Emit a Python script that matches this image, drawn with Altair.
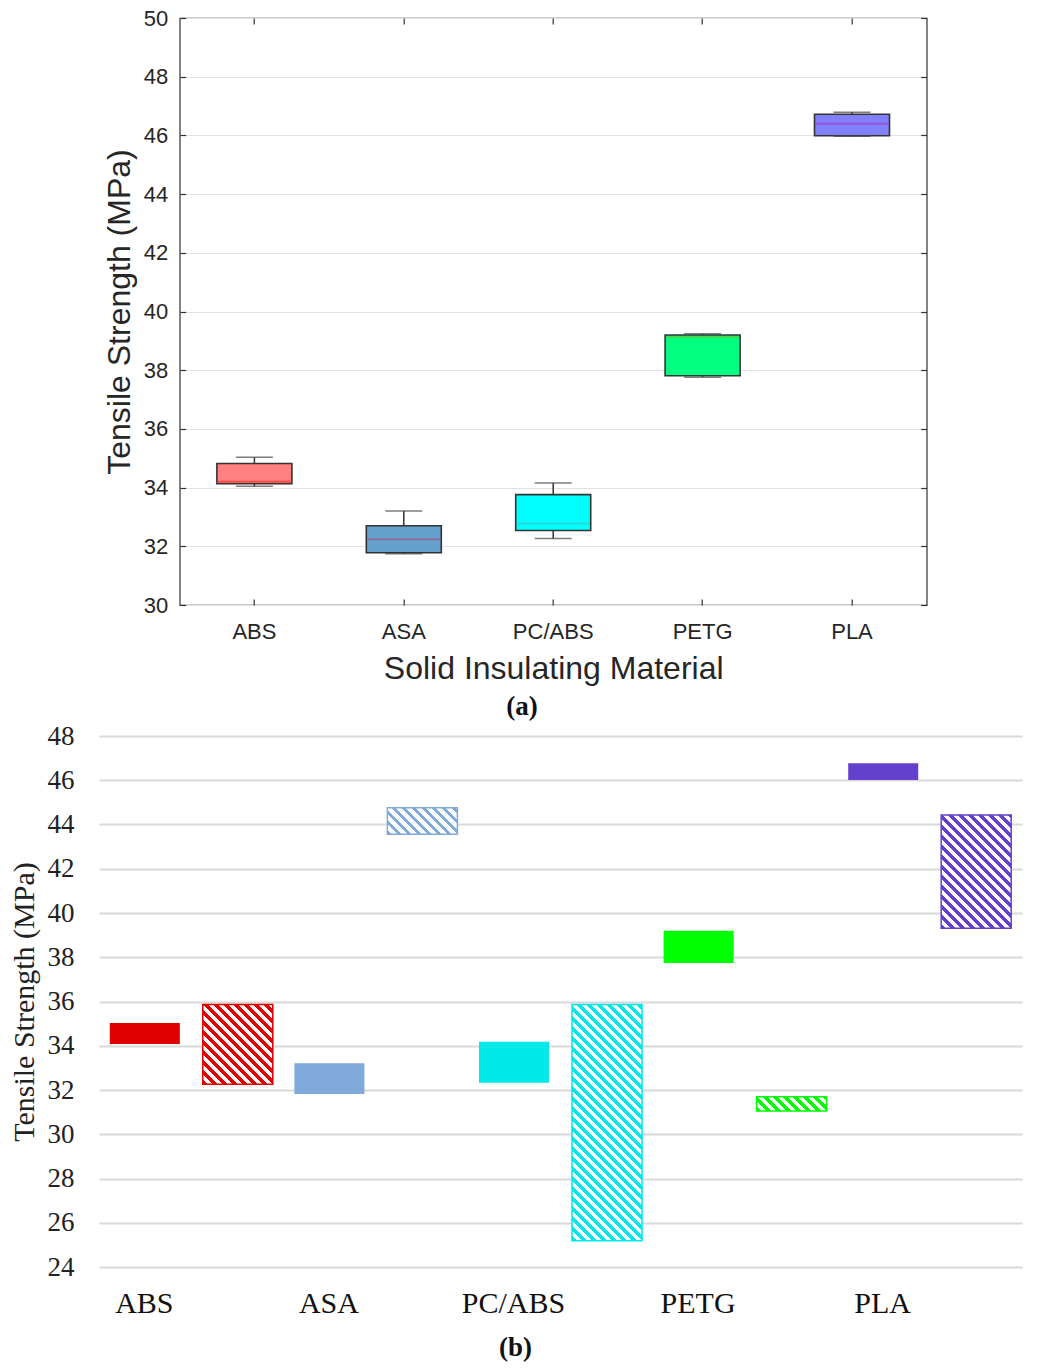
import altair as alt
import pandas as pd

materials = ["ABS", "ASA", "PC/ABS", "PETG", "PLA"]

# (a) box-plot summaries of tensile strength, MPa
box_min = [34.05, 31.75, 32.27, 37.76, 45.97]
box_q1 = [34.13, 31.78, 32.54, 37.81, 45.99]
box_median = [34.20, 32.24, 32.78, 39.13, 46.40]
box_q3 = [34.82, 32.70, 33.76, 39.20, 46.72]
box_max = [35.03, 33.20, 34.16, 39.24, 46.79]
box_fill = ["#FF8080", "#64A0CC", "#00FFFF", "#00FF80", "#8080FF"]
median_color = ["#FF3030", "#9A5C8C", "#3CC8C8", "#5CC83C", "#A040C0"]

# (b) strength ranges: measured (solid) and literature (hatched), MPa
solid_low = [34.08, 31.82, 32.33, 37.74, 46.01]
solid_high = [35.03, 33.21, 34.18, 39.20, 46.77]
hatch_low = [32.26, 43.56, 25.19, 31.05, 39.31]
hatch_high = [35.87, 44.76, 35.87, 31.70, 44.43]
bar_color = ["#E00000", "#80AADC", "#00E8E8", "#00FF00", "#6341CC"]

SANS = "Liberation Sans"
SERIF = "Liberation Serif"
INK = "#262626"

# ---------------------------------------------------------------- panel (a)
W1, H1 = 747, 587
box_df = pd.DataFrame({
    "material": materials, "min": box_min, "q1": box_q1,
    "median": box_median, "q3": box_q3, "max": box_max,
})
xs1 = alt.Scale(domain=materials, paddingInner=0, paddingOuter=0)
ys1 = alt.Scale(domain=[30, 50], nice=False, zero=False)
yticks1 = list(range(30, 51, 2))

# inward ticks: each axis is pulled 6px into the frame and ticks point out to the edge
x_bottom = alt.X("material:N", scale=xs1, sort=materials, axis=alt.Axis(
    orient="bottom", title="Solid Insulating Material", labelAngle=0, domain=False,
    tickSize=6, offset=-6, tickColor="#333333", tickWidth=1.2, labelPadding=16,
    titlePadding=11, labelFont=SANS, titleFont=SANS, labelFontSize=22,
    titleFontSize=32, titleFontWeight="normal", labelColor=INK, titleColor=INK,
    grid=False))
x_top = alt.X("material:N", scale=xs1, sort=materials, axis=alt.Axis(
    orient="top", title=None, labels=False, domain=False, tickSize=6, offset=-6,
    tickColor="#333333", tickWidth=1.2, grid=False))
y_left = alt.Y("min:Q", scale=ys1, axis=alt.Axis(
    orient="left", title="Tensile Strength (MPa)", values=yticks1, domain=False,
    tickSize=6, offset=-6, tickColor="#333333", tickWidth=1.2, labelPadding=12,
    titlePadding=7, labelFont=SANS, titleFont=SANS, labelFontSize=22,
    titleFontSize=32, titleFontWeight="normal", labelColor=INK, titleColor=INK,
    grid=True, gridColor="#E2E2E2", gridWidth=1.2))
y_right = alt.Y("q1:Q", scale=ys1, axis=alt.Axis(
    orient="right", title=None, labels=False, values=yticks1, domain=False,
    tickSize=6, offset=-6, tickColor="#333333", tickWidth=1.2, grid=False,
    minExtent=20))

base1 = alt.Chart(box_df)
whiskers = base1.mark_rule(color="#333333", strokeWidth=1.5).encode(
    x=x_bottom, y=y_left, y2="max:Q")
boxes = base1.mark_bar(size=75, stroke="#333333", strokeWidth=1.6).encode(
    x=x_top, y=y_right, y2="q3:Q",
    fill=alt.Fill("material:N", scale=alt.Scale(domain=materials, range=box_fill),
                  legend=None))
medians = base1.mark_tick(size=73, thickness=2).encode(
    x=alt.X("material:N", scale=xs1, axis=None),
    y=alt.Y("median:Q", scale=ys1, axis=None),
    color=alt.Color("material:N", scale=alt.Scale(domain=materials, range=median_color),
                    legend=None))
cap_low = base1.mark_tick(size=37, thickness=1.5, color="#444444").encode(
    x=alt.X("material:N", scale=xs1, axis=None),
    y=alt.Y("min:Q", scale=ys1, axis=None))
cap_high = base1.mark_tick(size=37, thickness=1.5, color="#444444").encode(
    x=alt.X("material:N", scale=xs1, axis=None),
    y=alt.Y("max:Q", scale=ys1, axis=None))

panel_a = alt.layer(whiskers, boxes, medians, cap_low, cap_high).resolve_axis(
    x="independent", y="independent"
).properties(
    width=W1, height=H1,
    view=alt.ViewBackground(stroke="#333333", strokeWidth=1.2),
    title=alt.TitleParams("(a)", orient="bottom", anchor="middle", frame="bounds",
                          font=SERIF, fontSize=27, fontWeight="bold", color="#111111",
                          offset=10),
)

# ---------------------------------------------------------------- panel (b)
W2, H2 = 923, 531
Y2_MIN, Y2_MAX = 24, 48
PAD_IN, PAD_OUT = 0.117, 0.0585   # category bands
SUB_PAD = 0.247                   # gap between the solid and hatched bar

rows = []
for i, m in enumerate(materials):
    rows.append({"material": m, "kind": "solid", "low": solid_low[i], "high": solid_high[i]})
    rows.append({"material": m, "kind": "hatched", "low": hatch_low[i], "high": hatch_high[i]})
range_df = pd.DataFrame(rows)

xs2 = alt.Scale(domain=materials, paddingInner=PAD_IN, paddingOuter=PAD_OUT)
ys2 = alt.Scale(domain=[Y2_MIN, Y2_MAX], nice=False, zero=False)
xo2 = alt.XOffset("kind:N", scale=alt.Scale(domain=["solid", "hatched"],
                                             paddingInner=SUB_PAD, paddingOuter=0))
x_axis2 = alt.Axis(title=None, labelAngle=0, domain=False, ticks=False,
                   labelOffset=-47, labelPadding=21, labelFont=SERIF,
                   labelFontSize=30, labelColor="#111111")
y_axis2 = alt.Axis(title="Tensile Strength (MPa)", values=list(range(24, 49, 2)),
                   domain=False, ticks=False, labelPadding=25, titlePadding=8,
                   labelFont=SERIF, titleFont=SERIF, labelFontSize=27,
                   titleFontSize=30, titleFontWeight="normal", labelColor="#222222",
                   titleColor="#222222", grid=True, gridColor="#D9D9D9", gridWidth=2)

# pixel size of one bar, used to lay the hatch stripes at 45 degrees
step2 = W2 / (len(materials) - PAD_IN + 2 * PAD_OUT)
band2 = step2 * (1 - PAD_IN)
bar_w = band2 / (2 - SUB_PAD) * (1 - SUB_PAD)
px_per_unit = H2 / (Y2_MAX - Y2_MIN)


def hatch_fill(color, w, h, period=10.0, frac=0.48):
    """Diagonal '\\' stripes as a hard-stop linear gradient in bounding-box units."""
    total = w + h
    a = total / (w * w + h * h)
    stops = []
    k = 0
    while k * period < total:
        t0 = k * period / total
        t1 = min((k * period + frac * period) / total, 1.0)
        t2 = min((k + 1) * period / total, 1.0)
        stops += [alt.GradientStop(offset=t0, color=color),
                  alt.GradientStop(offset=t1, color=color),
                  alt.GradientStop(offset=t1, color="#FFFFFF"),
                  alt.GradientStop(offset=t2, color="#FFFFFF")]
        k += 1
    return alt.LinearGradient(gradient="linear", x1=0, y1=1, x2=a * w, y2=1 - a * h,
                              stops=stops)


base2 = alt.Chart(range_df)
solid = base2.transform_filter(alt.datum.kind == "solid").mark_bar().encode(
    x=alt.X("material:N", scale=xs2, sort=materials, axis=x_axis2),
    xOffset=xo2,
    y=alt.Y("low:Q", scale=ys2, axis=y_axis2),
    y2="high:Q",
    fill=alt.Fill("material:N", scale=alt.Scale(domain=materials, range=bar_color),
                  legend=None),
)
layers = [solid]
for i, m in enumerate(materials):
    h_px = (hatch_high[i] - hatch_low[i]) * px_per_unit
    layers.append(
        base2.transform_filter((alt.datum.kind == "hatched") & (alt.datum.material == m))
        .mark_bar(fill=hatch_fill(bar_color[i], bar_w, h_px), stroke=bar_color[i],
                  strokeWidth=1.5)
        .encode(
            x=alt.X("material:N", scale=xs2, sort=materials, axis=x_axis2),
            xOffset=xo2,
            y=alt.Y("low:Q", scale=ys2, axis=y_axis2),
            y2="high:Q",
        )
    )

panel_b = alt.layer(*layers).properties(
    width=W2, height=H2,
    view=alt.ViewBackground(stroke=None),
    title=alt.TitleParams("(b)", orient="bottom", anchor="middle", frame="bounds",
                          font=SERIF, fontSize=27, fontWeight="bold", color="#111111",
                          offset=17),
)

chart = alt.vconcat(panel_a, panel_b, center=True, spacing=1).resolve_scale(
    color="independent", fill="independent"
).properties(
    padding={"left": 9, "top": 6, "right": 5, "bottom": 5},
    background="#FFFFFF",
)

chart.save("out.html", embed_options={"renderer": "svg", "actions": False})
